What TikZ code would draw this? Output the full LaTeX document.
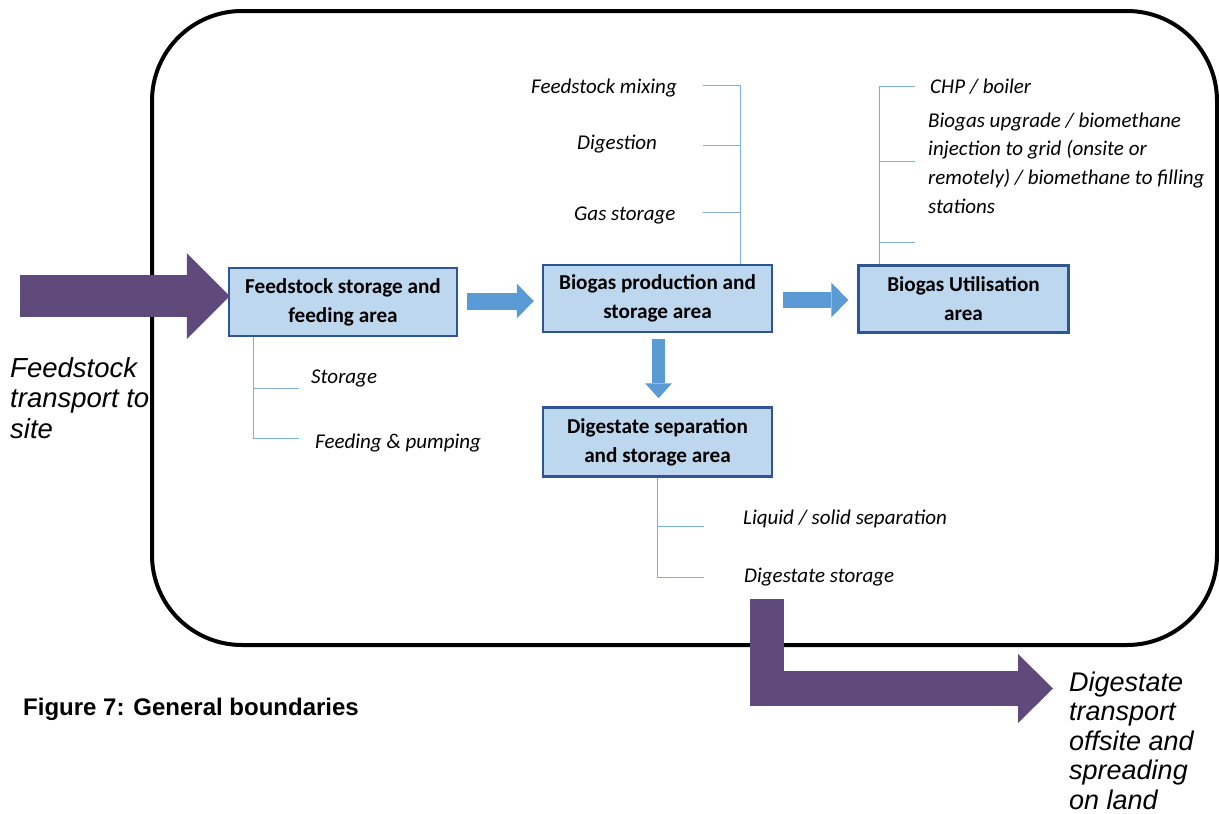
\documentclass[tikz,border=0pt]{standalone}
\usepackage{fontspec}
\setmainfont{Carlito}
\newfontfamily\arialf{Liberation Sans}
\usetikzlibrary{arrows.meta,calc}
\definecolor{boxfill}{RGB}{189,215,238}
\definecolor{boxline}{RGB}{47,85,151}
\definecolor{blockblue}{RGB}{91,155,213}
\definecolor{thinblue}{RGB}{125,172,222}
\definecolor{plum}{RGB}{96,74,123}
\newcommand\mystack[2]{\vtop{\baselineskip=#1\lineskiplimit=-100pt\lineskip=0pt #2}}
\begin{document}
\begin{tikzpicture}[x=1pt,y=-1pt,
  area/.style={draw=boxline, line width=2.5pt, fill=boxfill, align=center, inner sep=0pt,
    font=\bfseries\fontsize{21.2}{29}\selectfont},
  part/.style={anchor=base west, inner sep=0pt, font=\itshape\fontsize{21}{29}\selectfont},
  branch/.style={draw=thinblue, line width=1.2pt},
  flow/.style={draw=blockblue, line width=17pt, -{Triangle[width=35pt,length=17pt,line width=0pt]}},
  flowdown/.style={draw=blockblue, line width=13pt, -{Triangle[width=27pt,length=15pt,line width=0pt]}},
  bigtext/.style={anchor=base west, inner sep=0pt, font=\arialf\itshape\fontsize{27.5}{30}\selectfont}
]
\useasboundingbox (0,0) rectangle (1219,814);

% site boundary
\node[draw, line width=4pt, rounded corners=90pt, minimum width=1065pt, minimum height=634pt, inner sep=0pt] (site) at (684.5,328) {};

% purple transport arrows
\coordinate (fs) at (20,296);
\coordinate (ds) at (767,599);
\coordinate (de) at (1053,688.5);

% area boxes
\node[area, minimum width=228pt, minimum height=68pt] (b1) at (343,302) {Feedstock storage and\\feeding area};
\node[area, minimum width=229pt, minimum height=67pt] (b2) at (657.5,298.5) {Biogas production and\\storage area};
\node[area, minimum width=210pt, minimum height=67pt] (b3) at (963.5,299) {Biogas Utilisation\\area};
\node[area, minimum width=229pt, minimum height=69pt] (b4) at (657.5,442) {Digestate separation\\and storage area};

\draw[draw=plum, line width=42pt, -{Triangle[width=86pt,length=43pt,line width=0pt]}] (fs) -- ($(b1.west |- fs)+(2,0)$);
\draw[draw=plum, line width=34.5pt, line join=miter, -{Triangle[width=69pt,length=35pt,line width=0pt]}] (ds) |- (de);

% block arrows between areas
\coordinate (a1s) at ($(b1.east)+(9,-1)$);
\draw[flow] (a1s) -- ($(b2.west |- a1s)+(-8,0)$);
\coordinate (a2s) at ($(b2.east)+(10,1.5)$);
\draw[flow, line width=16pt] (a2s) -- ($(b3.west |- a2s)+(-9,0)$);
\draw[flowdown] ($(b2.south)+(1,6)$) -- ($(b4.north)+(1,-8)$);

% branches
\draw[branch] ($(b1.south west)+(26,0)$) coordinate (k1) -- ++(0,101) -- ++(45,0);
\draw[branch] ($(k1)+(0,51)$) -- ++(45,0);

\draw[branch] ($(b2.north west)+(199,0)$) coordinate (k2) -- ++(0,-178) -- ++(-38,0);
\draw[branch] ($(k2)+(0,-118)$) -- ++(-38,0);
\draw[branch] ($(k2)+(0,-51)$) -- ++(-38,0);

\draw[branch] ($(b3.north west)+(22.5,0)$) coordinate (k3) -- ++(0,-178) -- ++(35,0);
\draw[branch] ($(k3)+(0,-103)$) -- ++(35,0);
\draw[branch] ($(k3)+(0,-22)$) -- ++(35,0);

\draw[branch] (b4.south) coordinate (k4) -- ++(0,99.5) -- ++(46,0);
\draw[branch] ($(k4)+(0,48.5)$) -- ++(46,0);

% labels
\node[part] (l21) at (531,93) {Feedstock mixing};
\node[part] (l22) at (577,149) {Digestion};
\node[part] (l23) at (574,220) {Gas storage};
\node[part] (l31) at (930,93) {CHP / boiler};
\node[part] (l32) at (928,127) {\mystack{28.7pt}{\hbox{Biogas upgrade / biomethane}\hbox{injection to grid (onsite or}\hbox{remotely) / biomethane to filling}\hbox{stations}}};
\node[part] (l11) at (311,383) {Storage};
\node[part] (l12) at (315,448) {Feeding \& pumping};
\node[part] (l41) at (743,524) {Liquid / solid separation};
\node[part] (l42) at (744,582) {Digestate storage};

\node[bigtext] (tin) at (10,377) {\mystack{30.5pt}{\hbox{Feedstock}\hbox{transport to}\hbox{site}}};
\node[bigtext, font=\arialf\itshape\fontsize{27}{30}\selectfont] (tout) at (1069,691) {\mystack{29.5pt}{\hbox{Digestate}\hbox{transport}\hbox{offsite and}\hbox{spreading}\hbox{on land}}};

\node[anchor=base west, inner sep=0pt, font=\arialf\bfseries\fontsize{24}{28}\selectfont] (cap) at (23,715) {Figure 7: General boundaries};
\end{tikzpicture}
\end{document}
